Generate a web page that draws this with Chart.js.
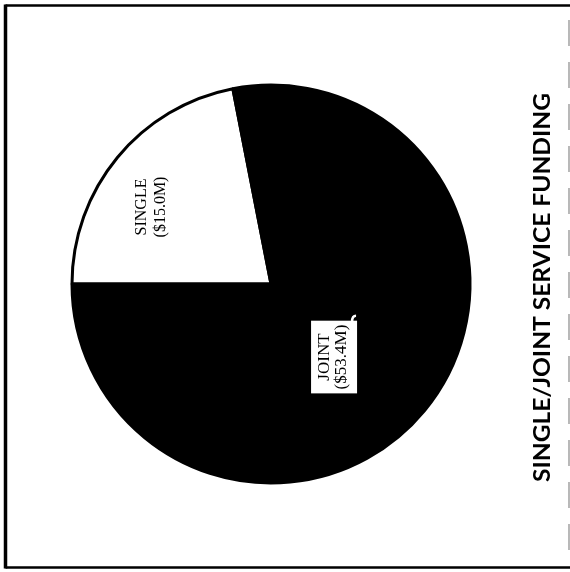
<!DOCTYPE html>
<html>
<head>
<meta charset="utf-8">
<script src="https://cdn.jsdelivr.net/npm/chart.js@4"></script>
<style>
  html, body { margin: 0; padding: 0; background: #fff; }
  #wrap { width: 570px; height: 572px; position: relative; }
</style>
</head>
<body>
<div id="wrap"><canvas id="c" width="570" height="572"></canvas></div>
<script>
// Funding split, in millions of dollars
const categories = ['SINGLE', 'JOINT'];
const amountsMillions = [15.0, 53.4];
const sliceLabels = [['SINGLE', '($15.0M)'], ['JOINT', '($53.4M)']];
const sliceColors = ['#ffffff', '#000000'];
const chartTitle = 'SINGLE/JOINT SERVICE FUNDING';

// Where each slice label sits: fraction along the slice angle, fraction of radius
const labelPlacement = [
  { angleFrac: 0.415, radiusFrac: 0.715, boxed: false, size: 16, lineGap: 19 },
  { angleFrac: 0.537, radiusFrac: 0.48, boxed: true, size: 17, lineGap: 17 }
];

// Page frame: solid on three sides, broken line on the right
const framePlugin = {
  id: 'frame',
  beforeDraw(chart) {
    const ctx = chart.ctx;
    ctx.save();
    ctx.fillStyle = '#fff';
    ctx.fillRect(0, 0, chart.width, chart.height);
    ctx.strokeStyle = '#000';
    ctx.lineWidth = 2.5;
    ctx.beginPath();
    ctx.moveTo(570, 5.5);
    ctx.lineTo(5.5, 5.5);
    ctx.stroke();
    ctx.beginPath();
    ctx.moveTo(5.5, 567.5);
    ctx.lineTo(570, 567.5);
    ctx.stroke();
    ctx.lineWidth = 3.5;
    ctx.beginPath();
    ctx.moveTo(5.5, 4.5);
    ctx.lineTo(5.5, 568.5);
    ctx.stroke();
    ctx.strokeStyle = '#8a8a8a';
    ctx.lineWidth = 1.2;
    ctx.setLineDash([26, 16]);
    ctx.beginPath();
    ctx.moveTo(569, 20);
    ctx.lineTo(569, 560);
    ctx.stroke();
    ctx.restore();
  }
};

// Vertical title on the right, reading bottom to top
const sideTitlePlugin = {
  id: 'sideTitle',
  afterDraw(chart) {
    const ctx = chart.ctx;
    ctx.save();
    ctx.translate(543, 287.5);
    ctx.rotate(-Math.PI / 2);
    ctx.font = 'bold 23px Lato, "Open Sans", sans-serif';
    ctx.fillStyle = '#000';
    ctx.textAlign = 'center';
    ctx.textBaseline = 'middle';
    const w = ctx.measureText(chartTitle).width;
    const target = 389;
    ctx.scale(target / w, 1);
    ctx.fillText(chartTitle, 0, 0);
    ctx.restore();
  }
};

// Rotated slice labels
const sliceLabelPlugin = {
  id: 'sliceLabels',
  afterDatasetsDraw(chart) {
    const ctx = chart.ctx;
    const meta = chart.getDatasetMeta(0);
    meta.data.forEach((arc, i) => {
      const p = arc.getProps(['x', 'y', 'startAngle', 'endAngle', 'outerRadius'], true);
      const place = labelPlacement[i];
      const a = p.startAngle + place.angleFrac * (p.endAngle - p.startAngle);
      const r = place.radiusFrac * p.outerRadius;
      const cx = p.x + Math.cos(a) * r;
      const cy = p.y + Math.sin(a) * r;
      const lines = sliceLabels[i];
      const lh = place.lineGap;
      ctx.save();
      ctx.translate(cx, cy);
      ctx.rotate(-Math.PI / 2);
      ctx.font = place.size + 'px "Liberation Serif", "DejaVu Serif", serif';
      ctx.textAlign = 'center';
      ctx.textBaseline = 'middle';
      if (place.boxed) {
        const w = Math.max(...lines.map(t => ctx.measureText(t).width));
        ctx.fillStyle = '#fff';
        ctx.fillRect(-w / 2 - 4, -lh / 2 - 13, w + 8, lh + 29);
        // small hook at the label's tag
        ctx.strokeStyle = '#fff';
        ctx.lineWidth = 2.5;
        ctx.beginPath();
        ctx.moveTo(w / 2 + 3, lh / 2 + 11);
        ctx.quadraticCurveTo(w / 2 + 9, lh / 2 + 11, w / 2 + 9, lh / 2 + 15);
        ctx.stroke();
      }
      ctx.fillStyle = '#000';
      lines.forEach((t, k) => {
        ctx.fillText(t, 0, (k - (lines.length - 1) / 2) * lh);
      });
      ctx.restore();
    });
  }
};

new Chart(document.getElementById('c'), {
  type: 'pie',
  data: {
    labels: categories,
    datasets: [{
      data: amountsMillions,
      backgroundColor: sliceColors,
      borderColor: '#000',
      borderWidth: 3
    }]
  },
  options: {
    responsive: false,
    animation: false,
    rotation: -90,
    layout: { padding: { left: 70.5, right: 98.5, top: 83.5, bottom: 87.5 } },
    plugins: {
      legend: { display: false },
      tooltip: { enabled: false },
      title: { display: false }
    }
  },
  plugins: [framePlugin, sliceLabelPlugin, sideTitlePlugin]
});
</script>
</body>
</html>
